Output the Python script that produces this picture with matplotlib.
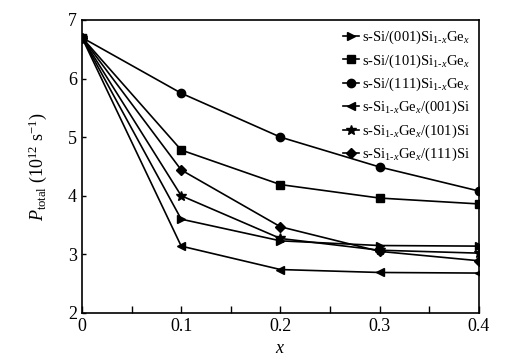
import matplotlib.pyplot as plt

plt.rcParams['font.family'] = ['Liberation Serif', 'DejaVu Serif']
plt.rcParams['mathtext.fontset'] = 'custom'
plt.rcParams['mathtext.rm'] = 'Liberation Serif'
plt.rcParams['mathtext.it'] = 'Liberation Serif:italic'
plt.rcParams['mathtext.bf'] = 'Liberation Serif:bold'

x = [0.0, 0.1, 0.2, 0.3, 0.4]
si_001 = [6.7, 3.60, 3.23, 3.15, 3.14]
si_101 = [6.7, 4.78, 4.19, 3.96, 3.86]
si_111 = [6.7, 5.75, 5.00, 4.49, 4.08]
sige_001 = [6.7, 3.14, 2.74, 2.69, 2.68]
sige_101 = [6.7, 4.00, 3.27, 3.07, 3.02]
sige_111 = [6.7, 4.44, 3.47, 3.05, 2.89]

labels = [
    r"s-Si/(001)Si$_{1\text{-}x}$Ge$_x$",
    r"s-Si/(101)Si$_{1\text{-}x}$Ge$_x$",
    r"s-Si/(111)Si$_{1\text{-}x}$Ge$_x$",
    r"s-Si$_{1\text{-}x}$Ge$_x$/(001)Si",
    r"s-Si$_{1\text{-}x}$Ge$_x$/(101)Si",
    r"s-Si$_{1\text{-}x}$Ge$_x$/(111)Si",
]
series = [si_001, si_101, si_111, sige_001, sige_101, sige_111]
markers = [">", "s", "o", "<", "*", "D"]
sizes = [6, 6, 6, 6, 7, 5]

fig = plt.figure(figsize=(5.09, 3.63), dpi=100)
ax = fig.add_axes([0.161, 0.138, 0.780, 0.807])

for y, lab, m, ms in zip(series, labels, markers, sizes):
    ax.plot(x, y, color="black", lw=1.2, marker=m, ms=ms, label=lab)

ax.set_xlim(0, 0.4)
ax.set_ylim(2, 7)
ax.set_xticks([0, 0.1, 0.2, 0.3, 0.4])
ax.set_xticklabels(["0", "0.1", "0.2", "0.3", "0.4"])
ax.set_xticks([0.05, 0.15, 0.25, 0.35], minor=True)
ax.set_yticks([2, 3, 4, 5, 6, 7])
ax.tick_params(axis="x", which="both", direction="in", length=5, width=1, labelsize=13)
ax.tick_params(axis="y", direction="in", length=3, width=1, labelsize=13)
for s in ax.spines.values():
    s.set_linewidth(1.2)

ax.set_xlabel(r"$x$", fontsize=13)
ax.set_ylabel(r"$P_{\mathrm{total}}$ (10$^{12}$ s$^{-1}$)", fontsize=13, labelpad=14)

ax.legend(loc="upper right", frameon=False, fontsize=10.5, handlelength=1.1,
          handletextpad=0.2, labelspacing=0.42, borderaxespad=0.2,
          bbox_to_anchor=(1.0, 1.0))

fig.savefig("out.png", dpi=100)
